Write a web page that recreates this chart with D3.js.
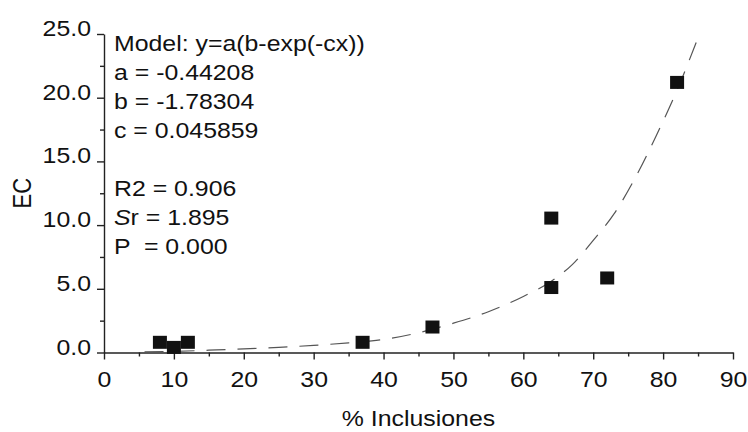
<!DOCTYPE html>
<html>
<head>
<meta charset="utf-8">
<script src="https://cdn.jsdelivr.net/npm/d3@7"></script>
<style>
    body { margin: 0; background: #fff; }
    svg text { font-family: "Liberation Sans", Arial, sans-serif; font-size: 22px; fill: #111; }
    .axis path, .axis line { stroke: #222; stroke-width: 1.4; }
</style>
</head>
<body>
<svg id="chart" width="748" height="432"></svg>
<script>
// Data
const inclusiones = [8, 10, 12, 37, 47, 64, 64, 72, 82];
const ec = [0.8, 0.4, 0.8, 0.8, 2.0, 5.1, 10.55, 5.85, 21.2];

// fitted curve
const fitX = [5.8, 10, 15, 20, 25, 30, 35, 40, 45, 50, 55, 60, 64, 67, 70, 73, 76, 79, 82, 85.2];
const fitY = [0.05, 0.08, 0.18, 0.28, 0.4, 0.56, 0.76, 1.02, 1.55, 2.3, 3.2, 4.4, 5.6, 6.9, 8.8, 10.9, 13.7, 17.0, 20.6, 25.0];

const xTicks = [0, 10, 20, 30, 40, 50, 60, 70, 80, 90];
const xMinor = [5, 15, 25, 35, 45, 55, 65, 75, 85];
const yTicks = [0, 5, 10, 15, 20, 25];
const yMinor = [2.5, 7.5, 12.5, 17.5, 22.5];

const modelLines = ["Model: y=a(b-exp(-cx))", "a = -0.44208", "b = -1.78304", "c = 0.045859", "",
    "R2 = 0.906", "Sr = 1.895", "P  = 0.000"];

const xTitle = "% Inclusiones";
const yTitle = "EC";

// the picture is a little stretched sideways, text follows that
const stretch = 1.13;

const svg = d3.select("#chart");
const margin = { left: 104, right: 15, top: 34, bottom: 79.5 };
const width = 748, height = 432;

const xScale = d3.scaleLinear().domain([0, 90]).range([margin.left, width - margin.right]);
const yScale = d3.scaleLinear().domain([0, 25]).range([height - margin.bottom, margin.top]);

// minor ticks first, under the main axes
svg.append("g").attr("class", "axis")
    .attr("transform", `translate(0,${yScale(0)})`)
    .call(d3.axisBottom(xScale).tickValues(xMinor).tickSize(4).tickSizeOuter(0).tickFormat(""))
    .select(".domain").remove();
svg.append("g").attr("class", "axis")
    .attr("transform", `translate(${xScale(0)},0)`)
    .call(d3.axisLeft(yScale).tickValues(yMinor).tickSize(4).tickSizeOuter(0).tickFormat(""))
    .select(".domain").remove();

let xAxis = svg.append("g").attr("class", "axis")
    .attr("transform", `translate(0,${yScale(0)})`)
    .call(d3.axisBottom(xScale).tickValues(xTicks).tickSize(7).tickSizeOuter(0).tickPadding(11.5));
xAxis.selectAll("text").attr("transform", `scale(${stretch},1)`);

let yAxis = svg.append("g").attr("class", "axis")
    .attr("transform", `translate(${xScale(0)},0)`)
    .call(d3.axisLeft(yScale).tickValues(yTicks).tickSize(7).tickSizeOuter(0).tickFormat(d3.format(".1f")));
yAxis.selectAll("text")
    .attr("x", -13 / stretch)
    .attr("dy", "0.07em")
    .attr("transform", `scale(${stretch},1)`);
svg.selectAll(".axis text").style("font-size", "22px").attr("fill", "#111");

// dashed fit line
const fitData = fitX.map((x, i) => ({ x: x, y: fitY[i] }));
const line = d3.line()
    .x((d) => xScale(d.x))
    .y((d) => yScale(d.y))
    .curve(d3.curveMonotoneX);
svg.append("path")
    .datum(fitData)
    .attr("d", line)
    .attr("fill", "none")
    .attr("stroke", "#555")
    .attr("stroke-width", 1.2)
    .attr("stroke-dasharray", "19,12");

// square markers
const points = inclusiones.map((x, i) => ({ x: x, y: ec[i] }));
svg.append("g").selectAll("rect").data(points).enter().append("rect")
    .attr("x", (d) => xScale(d.x) - 7)
    .attr("y", (d) => yScale(d.y) - 6.5)
    .attr("width", 14)
    .attr("height", 13)
    .attr("fill", "#111");

// model annotation
const note = svg.append("g").attr("transform", `translate(114,0) scale(${stretch},1)`);
modelLines.forEach((txt, i) => {
    let t = note.append("text").attr("x", 0).attr("y", 51 + i * 29).style("white-space", "pre");
    if (txt.startsWith("Sr")) {
        t.append("tspan").style("font-style", "italic").text("S");
        t.append("tspan").text(txt.slice(1));
    } else {
        t.text(txt);
    }
});

// axis titles
svg.append("text")
    .attr("transform", `translate(${(xScale(0) + xScale(90)) / 2},426) scale(${stretch},1)`)
    .attr("text-anchor", "middle")
    .text(xTitle);
svg.append("text")
    .attr("transform", `translate(31,${(yScale(0) + yScale(25)) / 2}) scale(${stretch},1) rotate(-90)`)
    .attr("text-anchor", "middle")
    .text(yTitle);
</script>
</body>
</html>
